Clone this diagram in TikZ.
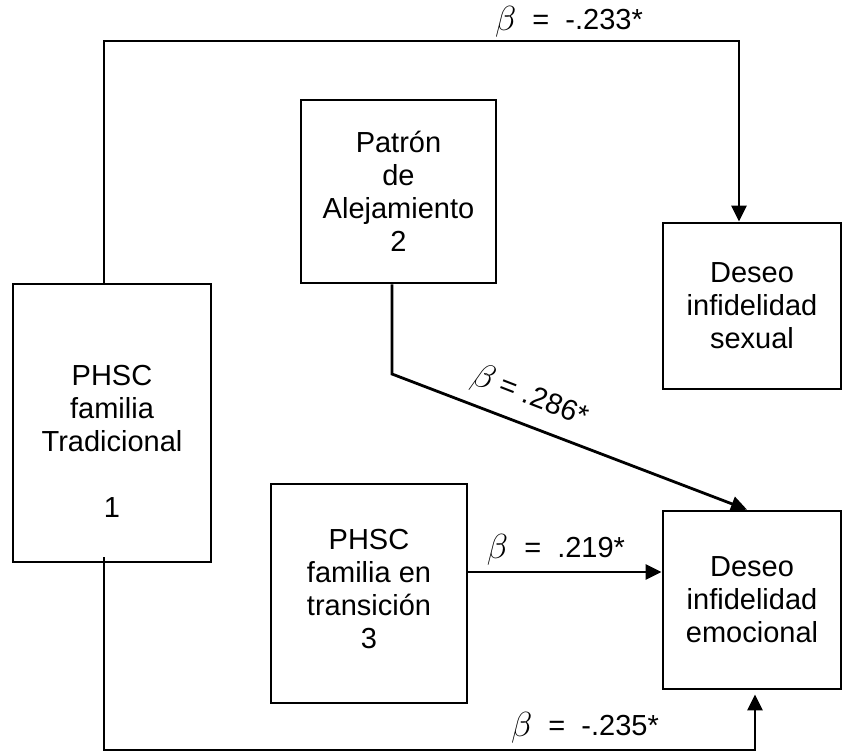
\documentclass[tikz,border=0pt]{standalone}
\usepackage{fontspec}
\setmainfont{Liberation Sans}
\usetikzlibrary{arrows.meta,calc}

\newcommand{\bcoef}{\raisebox{-1pt}{\scalebox{1.4}{$\beta$}}}

\begin{document}
\begin{tikzpicture}[x=1pt,y=-1pt,
  var/.style={draw,line width=2.8pt,rectangle,inner sep=0pt,align=center,
    font=\fontsize{29}{33}\selectfont},
  txt/.style={align=center,inner sep=0pt,font=\fontsize{29}{33}\selectfont},
  link/.style={line width=2.8pt},
  arr/.style={link,-{Triangle[length=16pt,width=15pt]}},
  coef/.style={font=\fontsize{29}{33}\selectfont,inner sep=0pt}]
  \useasboundingbox (0,0) rectangle (846,753);

  % variables
  \node[var,minimum width=198pt,minimum height=278pt] (n1) at (112,423) {};
  \node[txt] (n1t) at (112,441) {PHSC\\familia\\Tradicional\\[33pt]1};
  \node[var,minimum width=195pt,minimum height=183pt] (n2) at (398.5,191.5)
    {Patrón\\de\\Alejamiento\\2};
  \node[var,minimum width=196pt,minimum height=219pt] (n3) at (369,593.5) {};
  \node[txt] (n3t) at (369,589) {PHSC\\familia en\\transición\\3};
  \node[var,minimum width=178pt,minimum height=166pt] (ns) at (752,306)
    {Deseo\\infidelidad\\sexual};
  \node[var,minimum width=178pt,minimum height=178pt] (ne) at (752,600)
    {Deseo\\infidelidad\\emocional};

  % routing points
  \coordinate (tl) at (104,41);
  \coordinate (tr) at (739,41);
  \coordinate (bl) at (104,750);
  \coordinate (br) at (755,750);
  \coordinate (bend) at (392,374);
  \coordinate (mid) at (0,572);

  % paths
  \draw[arr] (n1.north -| tl) -- (tl) -- (tr) -- (tr |- ns.north);
  \draw[arr] ($(n1.south -| bl)+(0,-6)$) -- (bl) -- (br) -- ($(br |- ne.south)+(0,4)$);
  \draw[arr] (n2.south -| bend) -- (bend) -- ([xshift=-5pt]ne.north);
  \draw[arr] (n3.east |- mid) -- (ne.west |- mid);

  % coefficients
  \node[coef] (c1) at (569,22) {\bcoef\ \ =\ \ -.233*};
  \node[coef] (c2) at (556,550) {\bcoef\ \ =\ \ .219*};
  \node[coef] (c3) at (585,728) {\bcoef\ \ =\ \ -.235*};
  \node[coef,rotate=-21.2] (c4) at (530,397) {\bcoef\ = .286*};
\end{tikzpicture}
\end{document}
